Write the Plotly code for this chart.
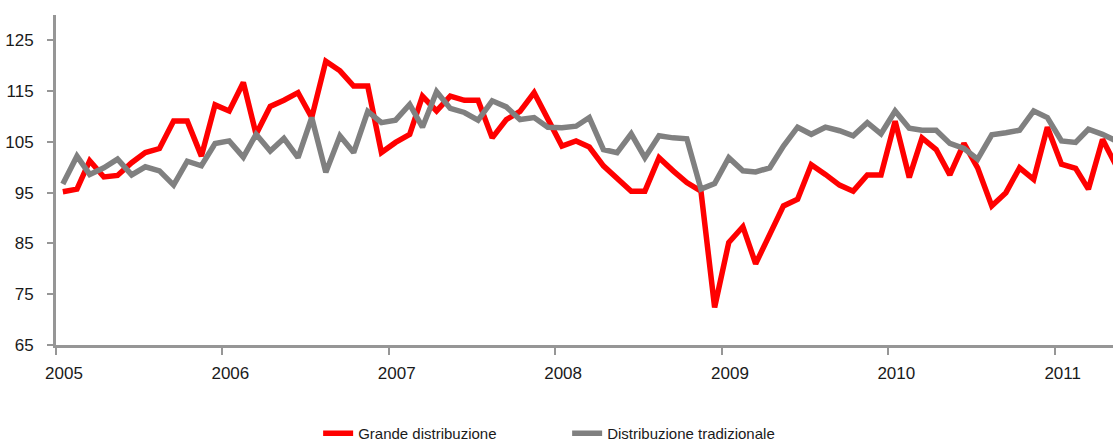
import pandas as pd
import plotly.graph_objects as go

# Monthly index, Jan 2005 - May 2011
months = pd.date_range("2005-01-01", periods=77, freq="MS") + pd.Timedelta(days=15)

grande = [95.2, 95.7, 101.3, 98.1, 98.4, 100.9, 102.9, 103.7, 109.1, 109.1, 102.2, 112.3,
          111.1, 116.7, 106.5, 112.0, 113.2, 114.7, 109.8, 120.9, 119.0, 116.0, 116.0, 102.9,
          104.9, 106.5, 114.0, 111.1, 114.0, 113.2, 113.2, 105.8, 109.4, 111.0, 114.7, 109.8,
          104.2, 105.2, 104.0, 100.3, 98.0, 95.3, 95.3, 101.9, 99.3, 97.0, 95.3, 72.4,
          85.2, 88.3, 81.0, 86.8, 92.4, 93.7, 100.5, 98.6, 96.5, 95.3, 98.5, 98.5,
          109.1, 98.0, 105.8, 103.5, 98.5, 104.7, 99.9, 92.4, 95.0, 99.9, 97.6, 107.9,
          100.6, 99.8, 95.7, 105.5, 100.3]

tradizionale = [96.7, 102.2, 98.6, 99.9, 101.6, 98.5, 100.1, 99.3, 96.5, 101.2, 100.3, 104.7,
                105.2, 102.0, 106.5, 103.2, 105.7, 101.9, 109.8, 99.0, 106.2, 102.9, 111.0, 108.8,
                109.3, 112.4, 107.9, 114.9, 111.6, 110.8, 109.3, 113.1, 111.9, 109.4, 109.8, 107.9,
                107.8, 108.1, 109.8, 103.5, 102.9, 106.6, 101.9, 106.2, 105.8, 105.6, 95.7, 96.8,
                101.9, 99.3, 99.1, 99.9, 104.2, 107.9, 106.5, 107.9, 107.2, 106.2, 108.8, 106.6,
                111.1, 107.7, 107.3, 107.3, 104.7, 103.7, 101.6, 106.4, 106.8, 107.3, 111.1, 109.8,
                105.2, 104.9, 107.5, 106.5, 105.2]

series_names = ["Grande distribuzione", "Distribuzione tradizionale"]
series_colors = ["#FF0000", "#808080"]

year_ticks = [f"{y}-01-01" for y in range(2005, 2012)]
year_labels = [str(y) for y in range(2005, 2012)]
y_ticks = [65, 75, 85, 95, 105, 115, 125]

fig = go.Figure()
for name, vals, col in zip(series_names, [grande, tradizionale], series_colors):
    fig.add_trace(go.Scatter(x=months, y=vals, mode="lines", name=name,
                             line=dict(color=col, width=5.5)))

tick_font = dict(family="Liberation Sans, Arial", size=17, color="#1a1a1a")

fig.update_layout(
    width=1113, height=441,
    margin=dict(l=56, r=0, t=15, b=96, autoexpand=False),
    paper_bgcolor="white", plot_bgcolor="white",
    showlegend=True,
    legend=dict(orientation="h", x=0.248, xanchor="left", y=-0.268, yanchor="middle",
                font=dict(family="Liberation Sans, Arial", size=15, color="#1a1a1a"),
                entrywidth=204, entrywidthmode="pixels"),
    xaxis=dict(type="date", range=["2005-01-01", "2011-05-09"],
               tickvals=year_ticks, ticktext=year_labels,
               showgrid=False, zeroline=False, automargin=False,
               showline=True, linecolor="#969696", linewidth=3,
               ticks="outside", ticklen=7, tickwidth=1.5, tickcolor="#969696",
               ticklabelshift=8, ticklabelstandoff=4,
               tickfont=tick_font),
    yaxis=dict(range=[65, 130], tickvals=y_ticks,
               showgrid=False, zeroline=False, automargin=False,
               showline=True, linecolor="#969696", linewidth=3,
               ticks="outside", ticklen=6, tickwidth=1.5, tickcolor="#969696",
               ticklabelstandoff=10,
               tickfont=tick_font),
)

fig.write_html("out.html", config={"displayModeBar": False},
               post_script="document.body.style.margin='0';document.body.style.overflow='hidden';")
